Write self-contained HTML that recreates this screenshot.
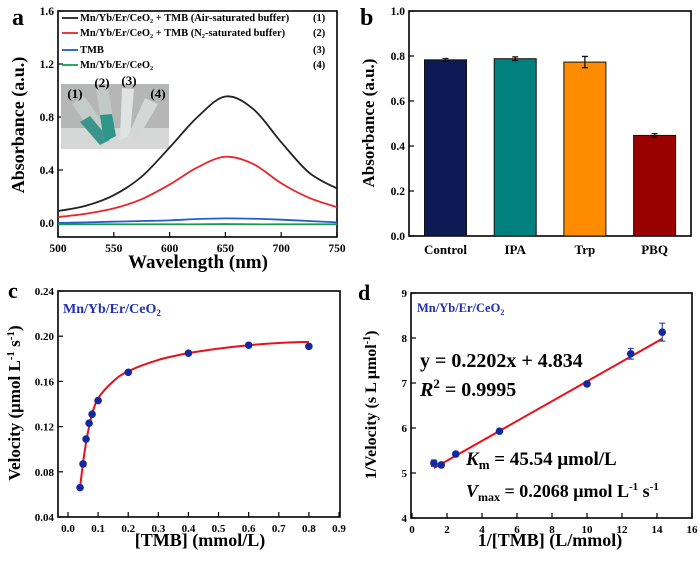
<!DOCTYPE html>
<html><head><meta charset="utf-8"><style>
html,body{margin:0;padding:0;background:#fff}
svg{display:block;font-family:"Liberation Serif",serif;font-weight:bold}
</style></head><body>
<svg id="fig" width="700" height="561" viewBox="0 0 700 561" xmlns="http://www.w3.org/2000/svg">
<g id="pa"></g>
<g id="pb"></g>
<g id="pc"></g>
<g id="pd"></g>
</svg>
<script>
// Panel a data
const aWave=[500,525,550,575,600,625,650,675,700,725,750];
const aAir=[0.09,0.13,0.21,0.35,0.57,0.80,0.955,0.86,0.61,0.38,0.26];
const aN2=[0.045,0.07,0.11,0.18,0.29,0.42,0.50,0.445,0.30,0.19,0.12];
const aTMB=[0.0,0.005,0.01,0.015,0.02,0.03,0.035,0.032,0.025,0.015,0.005];
const aCat=[-0.01,-0.01,-0.01,-0.01,-0.01,-0.01,-0.008,-0.01,-0.01,-0.01,-0.01];
const aXTicks=[500,550,600,650,700,750];
const aYTicks=[0.0,0.4,0.8,1.2,1.6];
// Panel b data
const bCats=["Control","IPA","Trp","PBQ"];
const bVals=[0.783,0.788,0.773,0.447];
const bErr=[0.006,0.008,0.025,0.008];
const bColors=["#0d1b55","#00807f","#ff8c00","#9b0000"];
const bYTicks=[0.0,0.2,0.4,0.6,0.8,1.0];
// Panel c data
const cX=[0.04,0.05,0.06,0.07,0.08,0.1,0.2,0.4,0.6,0.8];
const cY=[0.066,0.087,0.109,0.123,0.131,0.143,0.168,0.185,0.192,0.191];
const cFitX=[0.04,0.05,0.06,0.07,0.08,0.1,0.15,0.2,0.3,0.4,0.5,0.6,0.7,0.8];
const cFitY=[0.066,0.088,0.106,0.120,0.131,0.145,0.160,0.169,0.179,0.185,0.189,0.192,0.194,0.195];
const cXTicks=[0,0.1,0.2,0.3,0.4,0.5,0.6,0.7,0.8,0.9];
const cYTicks=[0.04,0.08,0.12,0.16,0.20,0.24];
// Panel d data
const dX=[1.25,1.67,2.5,5,10,12.5,14.3];
const dY=[5.22,5.18,5.42,5.93,6.98,7.65,8.13];
const dErr=[0.07,0.03,0.04,0.03,0.03,0.12,0.2];
const dSlope=0.2202, dInt=4.834;
const dXTicks=[0,2,4,6,8,10,12,14,16];
const dYTicks=[4,5,6,7,8,9];

const NS="http://www.w3.org/2000/svg";
function mk(parent,tag,attrs,text){const e=document.createElementNS(NS,tag);for(const k in attrs)e.setAttribute(k,attrs[k]);if(text!==undefined)e.textContent=text;parent.appendChild(e);return e;}
function lin(d0,d1,r0,r1){return v=>r0+(v-d0)*(r1-r0)/(d1-d0);}
function smooth(pts){let d="M"+pts[0][0]+","+pts[0][1];for(let i=0;i<pts.length-1;i++){const p0=pts[Math.max(0,i-1)],p1=pts[i],p2=pts[i+1],p3=pts[Math.min(pts.length-1,i+2)];const c1=[p1[0]+(p2[0]-p0[0])/6,p1[1]+(p2[1]-p0[1])/6],c2=[p2[0]-(p3[0]-p1[0])/6,p2[1]-(p3[1]-p1[1])/6];d+=" C"+c1+" "+c2+" "+p2;}return d;}

function axes(g,L,R,T,B,xs,ys,xt,yt,xfmt,yfmt,fs){
  let e=mk(g,"rect",{x:L,y:T,width:R-L,height:B-T,fill:"none",stroke:"#000","stroke-width":1.6});
  
  
  xt.forEach(v=>{const x=xs(v);
    let t=mk(g,"line",{x1:x,x2:x,y1:B,y2:B-5,stroke:"#000","stroke-width":1.2});
    
    
    let l=mk(g,"text",{x:x,y:B+15,"text-anchor":"middle","font-size":fs},xfmt(v));
    
    });
  yt.forEach(v=>{const y=ys(v);
    let t=mk(g,"line",{x1:L,x2:L+5,y1:y,y2:y,stroke:"#000","stroke-width":1.2});
    
    
    let l=mk(g,"text",{x:L-4,y:y+4,"text-anchor":"end","font-size":fs},yfmt(v));
    
    });
}
function label(g,x,y,s,name,fs,extra){let e=mk(g,"text",Object.assign({x:x,y:y,"font-size":fs},extra||{}),s);return e;}

// ---------- Panel a ----------
(function(){
const g=document.getElementById("pa");
const L=58,R=337,T=11,B=237;
const xs=lin(500,750,L,R), ys=lin(0,1.6,223,11);
axes(g,L,R,T,B,xs,ys,aXTicks,aYTicks,v=>v,v=>v.toFixed(1),11.5);
// inset photo
const ph=mk(g,"g",{});


mk(ph,"rect",{x:61,y:84,width:108,height:65,fill:"#b4b7b6"});
mk(ph,"rect",{x:61,y:128,width:108,height:21,fill:"#d6d8d7"});
mk(ph,"path",{d:"M72,104 L84,96 L112,136 L100,144 Z",fill:"#c5cbc9"});
mk(ph,"path",{d:"M80,122 L90,116 L110,140 L100,145 Z",fill:"#3a968d"});
mk(ph,"path",{d:"M96,88 L108,88 L116,136 L104,142 Z",fill:"#c3c9c7"});
mk(ph,"path",{d:"M100,115 L112,114 L116,136 L104,142 Z",fill:"#2d9688"});
mk(ph,"path",{d:"M122,88 L134,89 L130,136 L120,140 Z",fill:"#dfe3e2"});
mk(ph,"path",{d:"M145,98 L158,104 L138,138 L128,136 Z",fill:"#d3d7d6"});
[["(1)",75,98],["(2)",102,87],["(3)",129,85],["(4)",158,98]].forEach(p=>label(g,p[1],p[2],p[0],"inset-label",13,{"text-anchor":"middle"}));
const series=[[aAir,"#222","series-air"],[aN2,"#e8262a","series-n2"],[aTMB,"#1f5fd0","series-tmb"],[aCat,"#1a9a50","series-catalyst"]];
series.forEach(s=>{const p=mk(g,"path",{d:smooth(aWave.map((w,i)=>[xs(w),ys(s[0][i])])),fill:"none",stroke:s[1],"stroke-width":1.8});
  
  });
const leg=[["#222","Mn/Yb/Er/CeO\u2082 + TMB (Air-saturated buffer)","(1)",21],["#e8262a","Mn/Yb/Er/CeO\u2082 + TMB (N\u2082-saturated buffer)","(2)",36],["#1f5fd0","TMB","(3)",53],["#1a9a50","Mn/Yb/Er/CeO\u2082","(4)",68]];
leg.forEach(l=>{const gg=mk(g,"g",{});
  
  
  mk(gg,"line",{x1:62,x2:78,y1:l[3]-3,y2:l[3]-3,stroke:l[0],"stroke-width":1.8});
  mk(gg,"text",{x:80,y:l[3],"font-size":10.5},l[1]);
  mk(gg,"text",{x:313,y:l[3],"font-size":10.5},l[2]);});
label(g,12,25,"a","panel-label",24);
label(g,198,268,"Wavelength (nm)","x-axis-title",19,{"text-anchor":"middle"});
label(g,24,125,"Absorbance (a.u.)","y-axis-title",18,{"text-anchor":"middle",transform:"rotate(-90 24 125)"});
})();

// ---------- Panel b ----------
(function(){
const g=document.getElementById("pb");
const L=409,R=691,T=11,B=236;
const ys=lin(0,1,B,T);
const xs=i=>445.5+i*69.7;
axes(g,L,R,T,B,v=>0,ys,[],bYTicks,v=>v,v=>v.toFixed(1),11.5);
bCats.forEach((c,i)=>{const x=xs(i);
  const r=mk(g,"rect",{x:x-21,y:ys(bVals[i]),width:42,height:B-ys(bVals[i]),fill:bColors[i],stroke:"#111","stroke-width":1});
  
  
  const eb=mk(g,"path",{d:`M${x},${ys(bVals[i]+bErr[i])}V${ys(bVals[i]-bErr[i])}M${x-3},${ys(bVals[i]+bErr[i])}h6M${x-3},${ys(bVals[i]-bErr[i])}h6`,stroke:"#111","stroke-width":1.3,fill:"none"});
  
  
  label(g,x,254,c,"x-tick-label",13,{"text-anchor":"middle"});});
label(g,360,25,"b","panel-label",24);
label(g,374,123,"Absorbance (a.u.)","y-axis-title",17,{"text-anchor":"middle",transform:"rotate(-90 374 123)"});
})();

// ---------- Panel c ----------
(function(){
const g=document.getElementById("pc");
const L=58,R=340,T=291,B=517;
const xs=lin(0,0.9,68,339), ys=lin(0.04,0.24,517,291);
axes(g,L,R,T,B,xs,ys,cXTicks,cYTicks,v=>v.toFixed(1),v=>v.toFixed(2),11);
const f=mk(g,"path",{d:smooth(cFitX.map((v,i)=>[xs(v),ys(cFitY[i])])),fill:"none",stroke:"#e8101a","stroke-width":2});


cX.forEach((v,i)=>{const c=mk(g,"circle",{cx:xs(v),cy:ys(cY[i]),r:3.8,fill:"#1428a0"});
  
  });
label(g,63,313,"","catalyst-label",14,{fill:"#1f2fb0"}).innerHTML='Mn/Yb/Er/CeO<tspan font-size="9" dy="3">2</tspan>';
label(g,8,298,"c","panel-label",22);
label(g,200,546,"[TMB] (mmol/L)","x-axis-title",18,{"text-anchor":"middle"});
const yt=label(g,20,403,"","y-axis-title",17,{"text-anchor":"middle",transform:"rotate(-90 20 403)"});
yt.innerHTML='Velocity (μmol L<tspan font-size="11" dy="-6">-1</tspan><tspan dy="6"> s</tspan><tspan font-size="11" dy="-6">-1</tspan><tspan dy="6">)</tspan>';
})();

// ---------- Panel d ----------
(function(){
const g=document.getElementById("pd");
const L=411,R=692,T=293,B=518;
const xs=lin(0,16,412,692), ys=lin(4,9,518,293);
axes(g,L,R,T,B,xs,ys,dXTicks,dYTicks,v=>v,v=>v,11);
const x0=dX[0],x1=dX[dX.length-1];
const ln=mk(g,"line",{x1:xs(x0),y1:ys(dSlope*x0+dInt),x2:xs(x1),y2:ys(dSlope*x1+dInt),stroke:"#e8101a","stroke-width":2});


dX.forEach((v,i)=>{const x=xs(v);
  const eb=mk(g,"path",{d:`M${x},${ys(dY[i]+dErr[i])}V${ys(dY[i]-dErr[i])}M${x-3},${ys(dY[i]+dErr[i])}h6M${x-3},${ys(dY[i]-dErr[i])}h6`,stroke:"#1428a0","stroke-width":1,fill:"none"});
  
  
  const c=mk(g,"circle",{cx:x,cy:ys(dY[i]),r:3.8,fill:"#1428a0"});
  
  });
label(g,417,312,"","catalyst-label",12.5,{fill:"#1f2fb0"}).innerHTML='Mn/Yb/Er/CeO<tspan font-size="8" dy="3">2</tspan>';
label(g,420,367,"y = 0.2202x + 4.834","fit-equation",20);
label(g,420,396,"","r-squared",20).innerHTML='<tspan font-style="italic">R</tspan><tspan font-size="13" dy="-8">2</tspan><tspan dy="8"> = 0.9995</tspan>';
label(g,466,465,"","km-value",19).innerHTML='<tspan font-style="italic">K</tspan><tspan font-size="13" dy="4">m</tspan><tspan dy="-4"> = 45.54  μmol/L</tspan>';
label(g,466,497,"","vmax-value",18).innerHTML='<tspan font-style="italic">V</tspan><tspan font-size="12" dy="4">max</tspan><tspan dy="-4"> = 0.2068 μmol  L</tspan><tspan font-size="11" dy="-7">-1</tspan><tspan dy="7"> s</tspan><tspan font-size="11" dy="-7">-1</tspan>';
label(g,358,300,"d","panel-label",22);
label(g,550,546,"1/[TMB] (L/mmol)","x-axis-title",18,{"text-anchor":"middle"});
const yt=label(g,376,405,"","y-axis-title",16,{"text-anchor":"middle",transform:"rotate(-90 376 405)"});
yt.innerHTML='1/Velocity (s L μmol<tspan font-size="10" dy="-6">-1</tspan><tspan dy="6">)</tspan>';
})();
</script>
</body></html>
